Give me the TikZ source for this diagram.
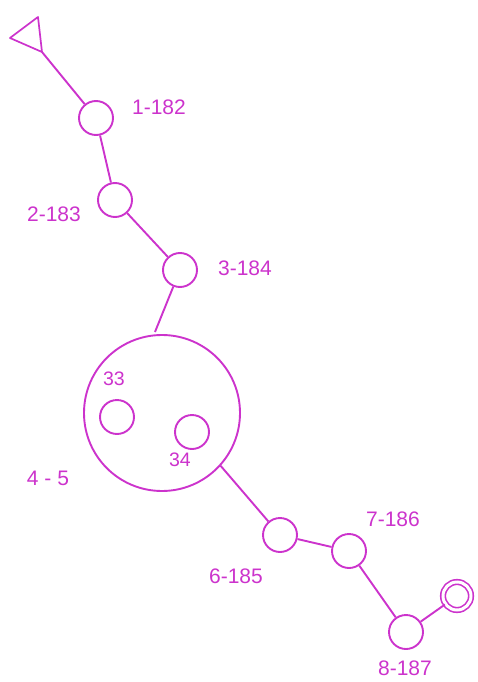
\documentclass[tikz,border=0pt]{standalone}
\usepackage{fontspec}
\setmainfont{Liberation Sans}
\usepackage{tikz}
\usetikzlibrary{positioning}
\definecolor{mag}{HTML}{CC33CC}

\begin{document}
\begin{tikzpicture}[x=1pt,y=-1pt,
  stn/.style={circle,draw=mag,line width=1.9pt,minimum size=34pt,inner sep=0pt},
  lbl/.style={text=mag,font=\fontsize{21}{25}\selectfont},
  sml/.style={text=mag,font=\fontsize{19.5}{23}\selectfont},
  lnk/.style={draw=mag,line width=1.9pt}]
  \useasboundingbox (0,0) rectangle (478,682);
  % triangle at the start
  \draw[lnk,line width=1.7pt,line join=round] (10,38) -- (38,17) -- (42,52) -- cycle;
  \coordinate (tri) at (42,52);
  % stations
  \node[stn] (c1) at (96,118) {};
  \node[stn] (c2) at (115,200) {};
  \node[stn] (c3) at (180,270) {};
  \node[stn,minimum size=156pt] (big) at (162,413) {};
  \node[stn] (c33) at (117,417) {};
  \node[stn] (c34) at (192,432) {};
  \node[stn] (c6) at (280,535) {};
  \node[stn] (c7) at (349,551) {};
  \node[stn] (c8) at (406,632) {};
  \node[circle,draw=mag,double,double distance=3pt,line width=1.6pt,minimum size=28pt,inner sep=0pt] (fin) at (457,596) {};
  \coordinate (gap) at (155,332);
  % labels
  \node[lbl] (l1) at (159,107) {1-182};
  \node[lbl] (l2) at (54,214) {2-183};
  \node[lbl] (l3) at (245,268) {3-184};
  \node[lbl] (l45) at (48,478) {4 - 5};
  \node[lbl] (l6) at (236,576) {6-185};
  \node[lbl] (l7) at (393,519) {7-186};
  \node[lbl] (l8) at (405,668) {8-187};
  \node[sml] (l33) at (114,379) {33};
  \node[sml] (l34) at (180,460) {34};
  % connectors
  \draw[lnk] (tri) -- (c1);
  \draw[lnk] (c1) -- (c2);
  \draw[lnk] (c2) -- (c3);
  \draw[lnk] (c3) -- (gap);
  \draw[lnk] (big.-42) -- (c6);
  \draw[lnk] (c6) -- (c7);
  \draw[lnk] (c7) -- (c8);
  \draw[lnk] (c8) -- (fin);
\end{tikzpicture}
\end{document}
